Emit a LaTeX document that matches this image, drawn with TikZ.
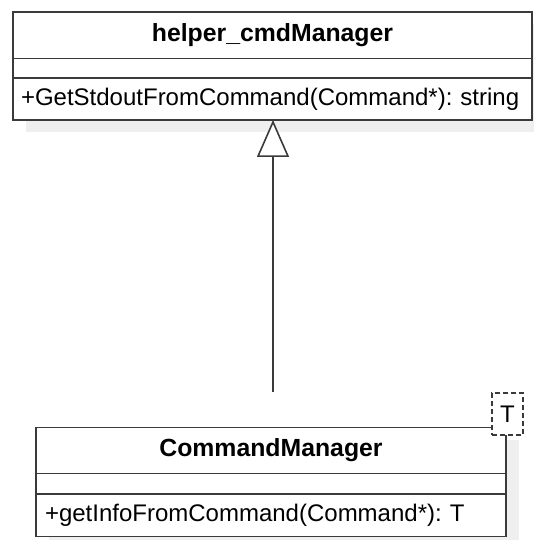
\documentclass[tikz,border=0pt]{standalone}
\usepackage{fontspec}
\setmainfont{Liberation Sans}
\usetikzlibrary{arrows.meta}
\definecolor{edge}{HTML}{3A3A3A}
\definecolor{shade}{HTML}{EFEFEF}
\frenchspacing
\begin{document}
\begin{tikzpicture}[x=1pt,y=-1pt,
  row/.style={draw=edge,line width=1.8pt,inner sep=0pt,outer sep=0pt,fill=white},
  titlerow/.style={row,font=\fontsize{24.8}{28}\selectfont\bfseries,align=center},
  methfont/.style={font=\fontsize{24}{27}\selectfont\frenchspacing},
  shadow/.style={fill=shade,draw=none},
  genarrow/.style={draw=edge,line width=1.8pt,-{Triangle[open,length=37pt,width=32pt,line width=1.6pt,fill=white]}},
  tparam/.style={draw=edge,dashed,dash pattern=on 5pt off 3pt,line width=1.8pt,fill=white,inner sep=0pt,font=\fontsize{24}{27}\selectfont}]
\useasboundingbox (0,0) rectangle (534,540);
% shadows
\fill[shadow] (26,24) rectangle (545,132);
\fill[shadow] (49,440) rectangle (519,549);
% top class
\node[titlerow,minimum width=519pt,minimum height=46.5pt] (htitle) at (272.5,35.25) {helper\_cmdManager};
\node[row,minimum width=519pt,minimum height=19.5pt] (hattr) at (272.5,68.25) {};
\node[row,methfont,minimum width=519pt,minimum height=42pt,text width=503pt,align=left] (hmeth) at (272.5,99) {+GetStdoutFromCommand(Command*): string};
% bottom class
\node[titlerow,minimum width=470pt,minimum height=46pt] (ctitle) at (271,450.5) {CommandManager};
\node[row,minimum width=470pt,minimum height=20.5pt] (cattr) at (271,483.75) {};
\node[row,methfont,minimum width=470pt,minimum height=42.5pt,text width=452pt,align=left] (cmeth) at (271,515.25) {+getInfoFromCommand(Command*): T};
% template parameter
\node[tparam,minimum width=31pt,minimum height=42pt] (tpar) at (507.5,414) {T};
% generalization
\coordinate (gstart) at (273,392);
\draw[genarrow] (gstart) -- (hmeth.south -| gstart);
\end{tikzpicture}
\end{document}
